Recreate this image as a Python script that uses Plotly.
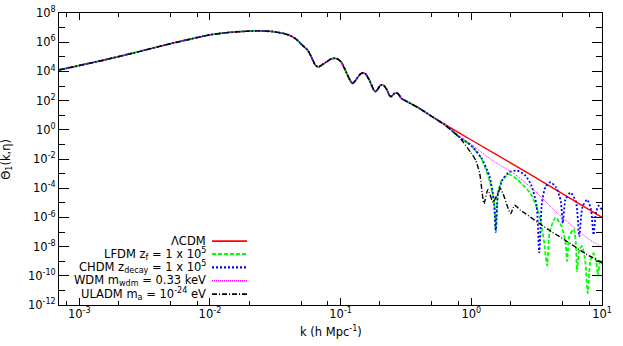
import plotly.graph_objects as go

# k (h/Mpc) and theta_1 on the part where every model sits on the same curve
k_common = [7.0e-4, 1.44e-3, 2.58e-3, 5.0e-3, 1.0e-2, 1.41e-2, 2.24e-2, 3.0e-2,
            3.55e-2, 4.05e-2, 4.57e-2, 5.1e-2, 5.6e-2, 5.97e-2, 6.4e-2, 6.76e-2, 7.15e-2,
            7.78e-2, 8.4e-2, 8.95e-2, 9.5e-2, 0.101, 0.107, 0.119, 0.124, 0.129,
            0.142, 0.148, 0.155, 0.166, 0.179, 0.185, 0.191, 0.201, 0.207, 0.214,
            0.227, 0.236, 0.243, 0.250, 0.257, 0.266, 0.275, 0.292, 0.309, 0.352,
            0.399, 0.50]
theta_common = [1.26e4, 5.2e4, 1.8e5, 7.9e5, 3.2e6, 4.7e6, 6.0e6, 5.4e6,
                4.2e6, 3.0e6, 1.6e6, 6.2e5, 2.8e5, 9.8e4, 2.7e4, 2.0e4, 2.7e4,
                4.4e4, 7.0e4, 7.9e4, 7.0e4, 4.4e4, 1.6e4, 2.2e3, 1.5e3, 2.2e3,
                6.8e3, 7.8e3, 6.8e3, 2.5e3, 5.5e2, 4.2e2, 5.5e2, 1.1e3, 1.2e3, 1.1e3,
                5.1e2, 2.3e2, 1.9e2, 2.3e2, 3.0e2, 3.3e2, 3.0e2, 1.4e2, 1.05e2, 56,
                30, 8.1]

# small scale tails, one per model
k_lcdm = [1.0, 2.76, 10.0]
theta_lcdm = [0.2, 1.0e-3, 1.0e-6]

k_lfdm = [0.631, 0.794, 1.0, 1.20, 1.38, 1.50, 1.54, 1.585, 1.70, 1.94, 2.24, 2.84,
          3.29, 3.59, 3.80, 3.98, 4.41, 4.90, 5.25, 5.41, 5.62, 6.08, 6.31, 6.44,
          6.68, 7.0, 7.41, 7.78, 8.13, 8.61, 9.02, 9.33, 9.66, 10.0]
theta_lfdm = [2.1, 0.35, 7.9e-2, 1.0e-2, 3.2e-4, 1.0e-5, 1.26e-7, 2.5e-5, 3.2e-4, 8.9e-4,
              4.0e-4, 4.3e-5, 1.8e-6, 2.7e-8, 5.0e-10, 1.0e-7, 1.0e-6, 2.5e-7, 2.0e-8,
              1.0e-9, 5.0e-8, 1.6e-7, 1.6e-8, 2.0e-10, 5.0e-9, 1.1e-8, 1.6e-9, 6.3e-12,
              1.0e-9, 3.5e-9, 1.0e-9, 1.0e-10, 1.0e-9, 6.3e-10]

k_chdm = [0.631, 0.794, 1.0, 1.20, 1.38, 1.486, 1.54, 1.60, 1.74, 1.95, 2.24, 2.57,
          2.88, 3.16, 3.31, 3.47, 3.69, 4.04, 4.47, 4.84, 5.01, 5.25, 5.73, 6.31,
          6.71, 7.08, 7.69, 8.22, 8.61, 9.02, 9.44, 10.0]
theta_chdm = [2.2, 0.38, 8.3e-2, 1.1e-2, 6.3e-4, 1.6e-5, 1.0e-7, 4.0e-5, 4.0e-4, 1.26e-3,
              1.6e-3, 8.0e-4, 1.6e-4, 6.3e-6, 4.0e-9, 1.0e-5, 1.2e-4, 2.6e-4, 1.1e-4,
              1.26e-5, 4.0e-7, 1.6e-5, 5.0e-5, 1.26e-5, 5.0e-8, 5.0e-6, 1.66e-5, 4.0e-6,
              6.3e-8, 2.5e-6, 6.3e-6, 3.2e-6]

k_wdm = [0.631, 0.794, 1.0, 1.445, 2.12, 2.84, 3.55, 4.17, 4.68, 6.31, 7.94, 10.0]
theta_wdm = [2.3, 0.40, 0.1, 8.1e-3, 1.0e-3, 1.2e-4, 1.8e-5, 4.0e-6, 1.6e-6, 1.6e-7,
             3.2e-8, 9.3e-9]

k_uladm = [0.631, 0.805, 1.0, 1.08, 1.16, 1.25, 1.34, 1.47, 1.67, 2.0, 2.14, 2.38,
           2.60, 3.19, 4.15, 5.25, 7.46, 10.0]
theta_uladm = [2.0, 0.32, 2.5e-2, 8.1e-3, 1.0e-3, 8.9e-6, 7.9e-5, 1.1e-5, 9.3e-5, 1.8e-6,
               6.8e-6, 3.1e-6, 1.8e-6, 4.9e-7, 1.0e-7, 2.7e-8, 3.3e-9, 8.0e-10]

names = ["ΛCDM",
         "LFDM z<sub>f</sub> = 1 x 10<sup>5</sup>",
         "CHDM z<sub>decay</sub> = 1 x 10<sup>5</sup>",
         "WDM m<sub>wdm</sub> = 0.33 keV",
         "ULADM m<sub>a</sub> = 10<sup>-24</sup> eV"]
colors = ["#ff0000", "#00ff00", "#0000ff", "#ff00ff", "#000000"]
dashes = ["solid", "4px,2px", "2px,2px", "1px,1px", "5px,2px,1px,2px"]
widths = [1.4, 1.8, 1.8, 1.0, 1.4]
tails = [(k_lcdm, theta_lcdm), (k_lfdm, theta_lfdm), (k_chdm, theta_chdm),
         (k_wdm, theta_wdm), (k_uladm, theta_uladm)]

FONT = "DejaVu Sans, Liberation Sans, Arial, sans-serif"

fig = go.Figure()
for name, col, dash, w, (kt, tt) in zip(names, colors, dashes, widths, tails):
    fig.add_trace(go.Scatter(
        x=k_common + kt, y=theta_common + tt, mode="lines", name=name,
        line=dict(color=col, dash=dash, width=w, shape="spline", smoothing=0.6),
        showlegend=False))

# legend drawn by hand: text right aligned, key line on the right (gnuplot style)
x_txt, x0, x1 = 0.2744, 0.2818, 0.3462
rows_y = [0.219, 0.174, 0.129, 0.083, 0.037]
for name, col, dash, w, yy in zip(names, colors, dashes, widths, rows_y):
    fig.add_annotation(x=x_txt, y=yy, xref="paper", yref="paper", text=name,
                       showarrow=False, xanchor="right", yanchor="middle",
                       font=dict(size=11.5, color="black"))
    fig.add_shape(type="line", xref="paper", yref="paper", x0=x0, x1=x1, y0=yy, y1=yy,
                  line=dict(color=col, dash=dash, width=w + 0.4))

xt = [1e-3, 1e-2, 1e-1, 1, 10]
xt_text = ["10<sup>-3</sup>", "10<sup>-2</sup>", "10<sup>-1</sup>", "10<sup>0</sup>", "10<sup>1</sup>"]
x_minor = [8e-4, 2e-3, 5e-3, 8e-3, 2e-2, 5e-2, 8e-2, 0.2, 0.5, 0.8, 2, 5, 8]
yt = [10.0 ** p for p in range(-12, 9, 2)]
yt_text = ["10<sup>%d</sup>" % p for p in range(-12, 9, 2)]
y_minor = [10.0 ** p for p in range(-11, 8, 2)]

fig.update_layout(
    width=623, height=346,
    margin=dict(l=59, r=21, t=13, b=41),
    paper_bgcolor="white", plot_bgcolor="white",
    font=dict(family=FONT, size=11.5, color="black"),
    xaxis=dict(type="log", range=[-3.155, 1.0], showgrid=False, zeroline=False,
               showline=True, linecolor="black", linewidth=1, mirror="allticks",
               ticks="inside", ticklen=7, tickcolor="black", automargin=False,
               tickvals=xt, ticktext=xt_text, ticklabelstandoff=-2,
               minor=dict(ticks="inside", ticklen=4, tickcolor="black", tickvals=x_minor)),
    yaxis=dict(type="log", range=[-12, 8], showgrid=False, zeroline=False,
               showline=True, linecolor="black", linewidth=1, mirror="allticks",
               ticks="inside", ticklen=10, tickcolor="black", automargin=False,
               tickvals=yt, ticktext=yt_text,
               minor=dict(ticks="inside", ticklen=6, tickcolor="black", tickvals=y_minor)),
)
fig.add_annotation(x=-0.098, y=0.5, xref="paper", yref="paper", text="Θ<sub>1</sub>(k,η)",
                   textangle=-90, showarrow=False, xanchor="center", yanchor="middle",
                   font=dict(size=11.5))
fig.add_annotation(x=0.5, y=-0.09, xref="paper", yref="paper",
                   text="k (h Mpc<sup>-1</sup>)", showarrow=False,
                   xanchor="center", yanchor="middle", font=dict(size=11.5))

# the page body has a default 8px margin; drop it so the figure sits at the corner
fig.write_html("out.html", config={"displayModeBar": False},
               post_script="document.body.style.margin='0';")
